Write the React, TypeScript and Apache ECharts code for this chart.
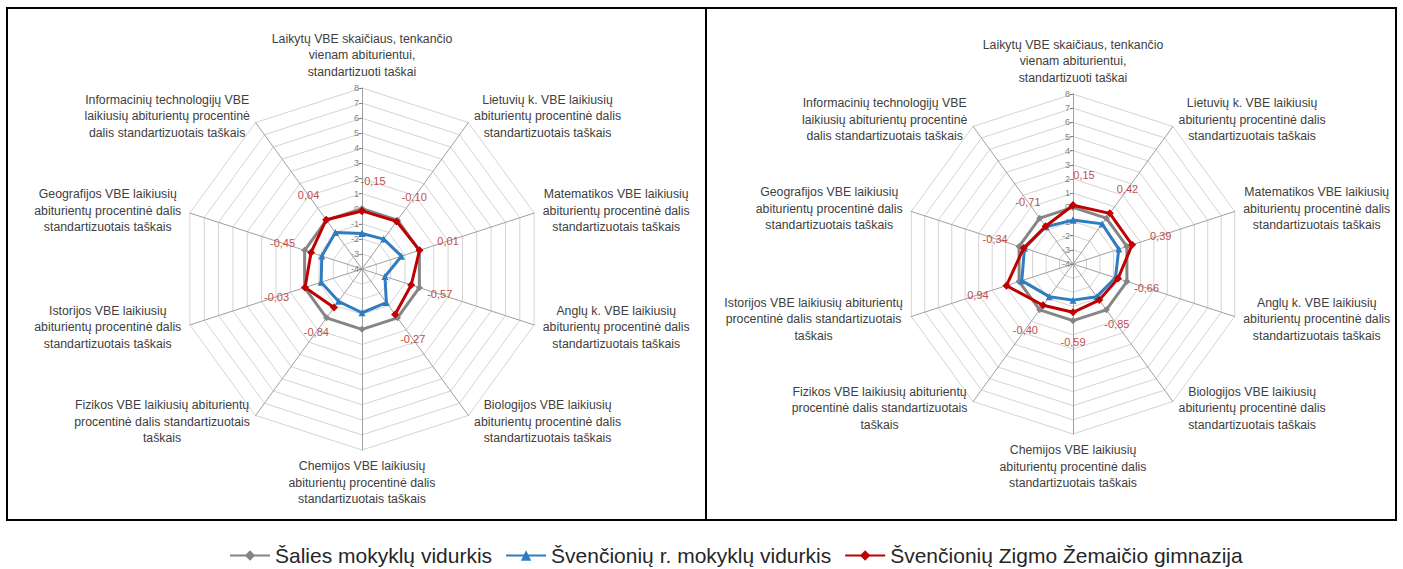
import React, { useEffect, useRef } from 'react';
import * as echarts from 'echarts';

// ---------- data ----------
const CATEGORIES_LEFT = [
  'Laikytų VBE skaičiaus, tenkančio\nvienam abiturientui,\nstandartizuoti taškai',
  'Lietuvių k. VBE laikiusių\nabiturientų procentinė dalis\nstandartizuotais taškais',
  'Matematikos VBE laikiusių\nabiturientų procentinė dalis\nstandartizuotais taškais',
  'Anglų k. VBE laikiusių\nabiturientų procentinė dalis\nstandartizuotais taškais',
  'Biologijos VBE laikiusių\nabiturientų procentinė dalis\nstandartizuotais taškais',
  'Chemijos VBE laikiusių\nabiturientų procentinė dalis\nstandartizuotais taškais',
  'Fizikos VBE laikiusių abiturientų\nprocentinė dalis standartizuotais\ntaškais',
  'Istorijos VBE laikiusių\nabiturientų procentinė dalis\nstandartizuotais taškais',
  'Geografijos VBE laikiusių\nabiturientų procentinė dalis\nstandartizuotais taškais',
  'Informacinių technologijų VBE\nlaikiusių abiturientų procentinė\ndalis standartizuotais taškais',
];
const CATEGORIES_RIGHT = [
  'Laikytų VBE skaičiaus, tenkančio\nvienam abiturientui,\nstandartizuoti taškai',
  'Lietuvių k. VBE laikiusių\nabiturientų procentinė dalis\nstandartizuotais taškais',
  'Matematikos VBE laikiusių\nabiturientų procentinė dalis\nstandartizuotais taškais',
  'Anglų k. VBE laikiusių\nabiturientų procentinė dalis\nstandartizuotais taškais',
  'Biologijos VBE laikiusių\nabiturientų procentinė dalis\nstandartizuotais taškais',
  'Chemijos VBE laikiusių\nabiturientų procentinė dalis\nstandartizuotais taškais',
  'Fizikos VBE laikiusių abiturientų\nprocentinė dalis standartizuotais\ntaškais',
  'Istorijos VBE laikiusių abiturientų\nprocentinė dalis standartizuotais\ntaškais',
  'Geografijos VBE laikiusių\nabiturientų procentinė dalis\nstandartizuotais taškais',
  'Informacinių technologijų VBE\nlaikiusių abiturientų procentinė\ndalis standartizuotais taškais',
];

const SERIES_NAMES = [
  'Šalies mokyklų vidurkis',
  'Švenčionių r. mokyklų vidurkis',
  'Švenčionių Zigmo Žemaičio gimnazija',
];

const LEFT_NATIONAL = [0, 0, 0, 0, 0, 0, 0, 0, 0, 0];
const LEFT_DISTRICT = [-1.65, -1.55, -1.25, -2.4, -1.25, -1.1, -1.35, -1.15, -1.2, -1.0];
const LEFT_SCHOOL: (number | null)[] = [-0.15, -0.1, 0.01, -0.57, -0.27, null, -0.84, -0.03, -0.45, 0.04];

const RIGHT_NATIONAL = [0, 0, 0, 0, 0, 0, 0, 0, 0, 0];
const RIGHT_DISTRICT = [-0.9, -0.5, -0.6, -0.85, -1.15, -1.45, -1.15, -0.2, -0.4, -0.75];
const RIGHT_SCHOOL: (number | null)[] = [0.15, 0.42, 0.39, -0.66, -0.85, -0.59, -0.4, 0.94, -0.34, -0.71];

const AXIS_MIN = -4;
const AXIS_MAX = 8;
const AXIS_STEP = 1;

// ---------- styles ----------
const FONT = '"Liberation Sans", Arial, sans-serif';
const NAME_SIZE = 12.3;
const NAME_LH = 16.5;
const COLORS = ['#858585', '#2F7CC0', '#C00000'];
const SYMBOLS = ['diamond', 'triangle', 'diamond'];
const SYMBOL_SIZES = [7, 7, 8];
const LABEL_GAP = 30;
const TOP_LABEL_SHIFT = 11; // keeps the top label clear of the tick labels

const fmt = (v: number) => v.toFixed(2).replace('.', ',');

function measure(text: string): number {
  const c = document.createElement('canvas').getContext('2d');
  if (!c) return text.length * 6.5;
  c.font = `${NAME_SIZE}px ${FONT}`;
  return c.measureText(text).width;
}

// ECharts radar lays indicators counter-clockwise; the reference is clockwise
const radarOrder = (arr: string[]) => [arr[0], ...arr.slice(1).reverse()];

function buildRadar(cats: string[], center: number[], radius: number, prefix: string) {
  const rich: any = {};
  cats.forEach((c, i) => {
    const w = Math.max(...c.split('\n').map(measure)) + 2;
    rich[prefix + i] = {
      width: w,
      align: 'center',
      fontSize: NAME_SIZE,
      lineHeight: NAME_LH,
      fontFamily: FONT,
      color: '#404040',
    };
  });
  return {
    center,
    radius,
    startAngle: 90,
    splitNumber: (AXIS_MAX - AXIS_MIN) / AXIS_STEP,
    shape: 'polygon',
    indicator: radarOrder(cats).map((name) => ({ name, min: AXIS_MIN, max: AXIS_MAX })),
    nameGap: 8,
    axisName: {
      color: '#404040',
      fontSize: NAME_SIZE,
      fontFamily: FONT,
      lineHeight: NAME_LH,
      formatter: (name: string) => {
        const i = cats.indexOf(name);
        return name
          .split('\n')
          .map((l) => `{${prefix}${i}|${l}}`)
          .join('\n');
      },
      rich,
    },
    splitLine: { lineStyle: { color: '#D4D4D4', width: 1 } },
    splitArea: { show: false },
    axisLine: { lineStyle: { color: '#A0A0A0', width: 1 } },
    axisTick: { show: false },
    axisLabel: { show: false },
  };
}

function buildSeries(
  values: (number | null)[],
  k: number,
  polarIndex: number,
  withLabels: boolean
) {
  const n = values.length;
  const data: any[] = values.map((v, i) => {
    const item: any = { value: [v == null ? '-' : v, i] };
    if (withLabels && v != null) {
      const th = ((90 - (360 * i) / n) * Math.PI) / 180;
      const dx = LABEL_GAP * Math.cos(th) + (i === 0 ? TOP_LABEL_SHIFT : 0);
      item.label = {
        show: true,
        offset: [dx, -LABEL_GAP * Math.sin(th)],
      };
    }
    return item;
  });
  // close the polygon back on the first category
  data.push({ value: [values[0] == null ? '-' : values[0], n] });
  return {
    type: 'line',
    name: SERIES_NAMES[k],
    coordinateSystem: 'polar',
    polarIndex,
    data,
    symbol: SYMBOLS[k],
    symbolSize: SYMBOL_SIZES[k],
    connectNulls: false,
    lineStyle: { color: COLORS[k], width: 3 },
    itemStyle: { color: COLORS[k] },
    z: 3 + k,
    label: {
      show: false,
      position: 'inside',
      color: '#C0504D',
      fontSize: 11,
      fontFamily: FONT,
      formatter: (p: any) => fmt(Number(p.value[0])),
    },
  };
}

function polarAxes(idx: number, n: number) {
  return {
    angle: {
      polarIndex: idx,
      type: 'value',
      min: 0,
      max: n,
      startAngle: 90,
      clockwise: true,
      axisLine: { show: false },
      axisTick: { show: false },
      axisLabel: { show: false },
      splitLine: { show: false },
    },
    radius: {
      polarIndex: idx,
      type: 'value',
      min: AXIS_MIN,
      max: AXIS_MAX,
      interval: AXIS_STEP,
      axisLine: { show: false },
      axisTick: { show: true, length: 3, lineStyle: { color: '#808080' } },
      axisLabel: { fontSize: 9, color: '#7F7F7F', fontFamily: FONT, margin: 3 },
      splitLine: { show: false },
      z: 3,
    },
  };
}

export default function App() {
  const ref = useRef<HTMLDivElement>(null);
  useEffect(() => {
    if (!ref.current) return;
    const chart = echarts.init(ref.current, undefined, { renderer: 'svg' });
    const L = { center: [362, 269], radius: 181 };
    const R = { center: [1073, 264], radius: 170 };
    const pa0 = polarAxes(0, CATEGORIES_LEFT.length);
    const pa1 = polarAxes(1, CATEGORIES_RIGHT.length);
    chart.setOption({
      animation: false,
      backgroundColor: '#FFFFFF',
      radar: [
        buildRadar(CATEGORIES_LEFT, L.center, L.radius, 'a'),
        buildRadar(CATEGORIES_RIGHT, R.center, R.radius, 'b'),
      ],
      polar: [
        { center: L.center, radius: L.radius },
        { center: R.center, radius: R.radius },
      ],
      angleAxis: [pa0.angle, pa1.angle],
      radiusAxis: [pa0.radius, pa1.radius],
      legend: {
        left: 224,
        top: 540,
        itemWidth: 40,
        itemHeight: 13,
        itemGap: 13,
        data: SERIES_NAMES,
        textStyle: { fontSize: 21, fontFamily: FONT, color: '#262626' },
      },
      graphic: [
        {
          type: 'rect',
          silent: true,
          shape: { x: 7, y: 8, width: 699, height: 512 },
          style: { fill: 'none', stroke: '#000', lineWidth: 2 },
        },
        {
          type: 'rect',
          silent: true,
          shape: { x: 706, y: 8, width: 690, height: 512 },
          style: { fill: 'none', stroke: '#000', lineWidth: 2 },
        },
      ],
      series: [
        buildSeries(LEFT_NATIONAL, 0, 0, false),
        buildSeries(LEFT_DISTRICT, 1, 0, false),
        buildSeries(LEFT_SCHOOL, 2, 0, true),
        buildSeries(RIGHT_NATIONAL, 0, 1, false),
        buildSeries(RIGHT_DISTRICT, 1, 1, false),
        buildSeries(RIGHT_SCHOOL, 2, 1, true),
      ],
    });
    return () => chart.dispose();
  }, []);
  return (
    <div
      ref={ref}
      style={{ position: 'absolute', left: 0, top: 0, width: 1403, height: 569 }}
    />
  );
}
